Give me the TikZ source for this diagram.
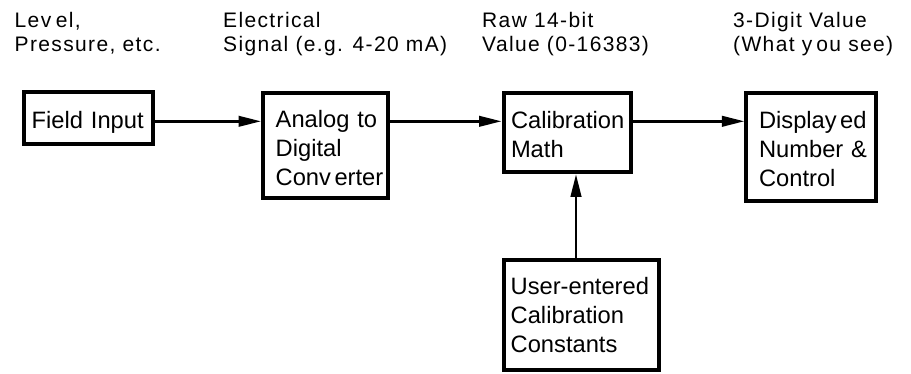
\documentclass[tikz,border=0pt]{standalone}
\usepackage{fontspec}
\setmainfont{Liberation Sans}
\newfontfamily\lblfamily[LetterSpace=6.5]{Liberation Sans}
\usetikzlibrary{arrows.meta}
\newcommand\boxfont{\fontsize{23.7}{29}\selectfont\hyphenpenalty=10000 \exhyphenpenalty=10000 \hbadness=10000 \hfuzz=50pt }
\newcommand\lblfont{\lblfamily\fontsize{21}{23.5}\selectfont}
\newcommand\gp{\kern3.5pt}
\newcommand\tallrule[1]{\rule{0pt}{#1pt}}
\tikzset{
  box/.style={draw, line width=4pt, rectangle, align=left, font=\boxfont, inner ysep=0pt},
  lbl/.style={anchor=base west, align=left, inner sep=0pt, font=\lblfont},
  conn/.style={line width=2.5pt, -{Triangle[length=22.5pt,width=10.5pt]}},
}
\begin{document}
\begin{tikzpicture}[x=1pt,y=-1pt]
\useasboundingbox[fill=white] (0,0) rectangle (911,373);

% top labels (anchor = baseline of the second line)
\node[lbl] (l1) at (14.5,51) {Lev\kern4.5pt el,\\Pressure, etc.};
\node[lbl] (l2) at (223,51) {Electrical\\Signal (e.g. 4-20 mA)};
\node[lbl] (l3) at (482,51) {Raw 14-bit\\Value (0-16383)};
\node[lbl] (l4) at (733,51) {3-Digit Value\\(What y\kern4pt ou see)};

% boxes
\node[box, minimum width=129pt, minimum height=52pt, text width=113.6pt, inner xsep=7.7pt] (fi) at (88.5,118) {\tallrule{25}Field~Input};
\node[box, minimum width=125pt, minimum height=105.5pt, text width=99.6pt, inner xsep=12.7pt] (adc) at (325.5,145.5) {\tallrule{23}Analog~to\\Digital\\Conv\gp erter};
\node[box, minimum width=127.8pt, minimum height=79.5pt, text width=112.8pt, inner xsep=7.5pt] (cal) at (567.4,132.5) {\tallrule{21.3}Calibration\\Math};
\node[box, minimum width=129.7pt, minimum height=108pt, text width=104.3pt, inner xsep=12.7pt] (disp) at (811.2,146.7) {\tallrule{21.3}Display\gp ed\\Number~\&\\Control};
\node[box, minimum width=155pt, minimum height=110pt, text width=141pt, inner xsep=7pt] (user) at (581.2,315.3) {User-entered\\Calibration\\Constants};

% connectors
\coordinate (ay) at (0,121.3);
\coordinate (ax) at (576,0);
\draw[conn] (fi.east |- ay) -- (adc.west |- ay);
\draw[conn] (adc.east |- ay) -- (cal.west |- ay);
\draw[conn] (cal.east |- ay) -- (disp.west |- ay);
\draw[conn] (user.north -| ax) -- (cal.south -| ax);
\end{tikzpicture}
\end{document}
